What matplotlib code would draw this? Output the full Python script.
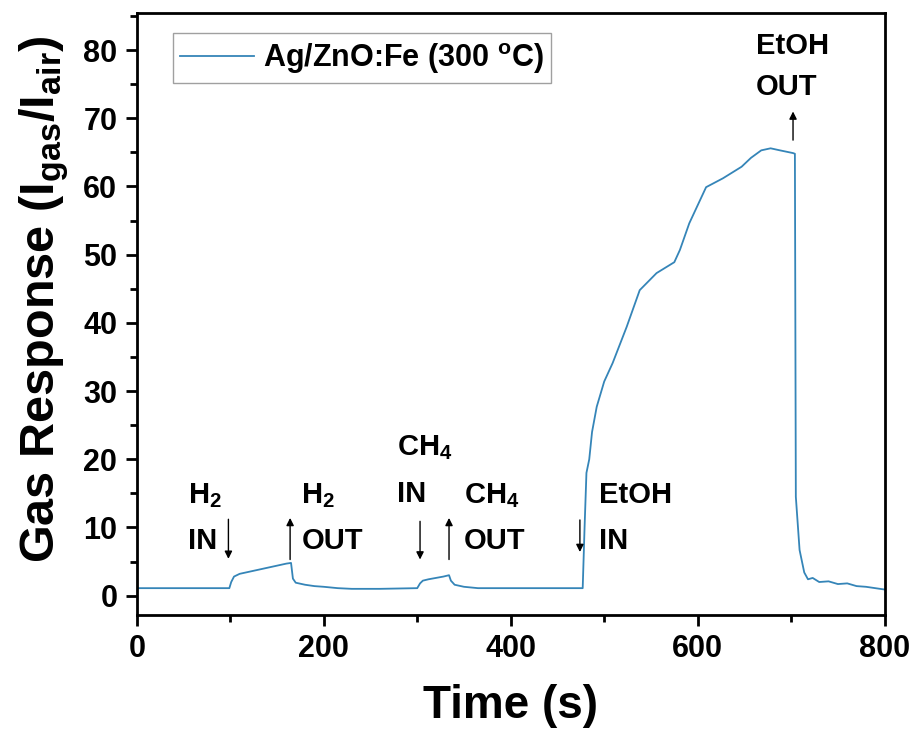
import matplotlib
matplotlib.use("Agg")
import matplotlib.pyplot as plt

# Ag/ZnO:Fe sensor response at 300 C
time_s = [0, 50, 99, 101, 104, 110, 120, 130, 140, 150, 160, 165, 167, 170,
          180, 190, 200, 215, 230, 260, 300, 303, 306, 312, 320, 328, 334, 336,
          340, 350, 365, 400, 440, 477, 479, 481, 484, 487, 492, 500, 509, 524,
          538, 556, 575, 581, 591, 609, 627, 647, 657, 668, 678, 688, 702, 704, 705,
          709, 714, 718, 723, 730, 740, 750, 760, 770, 780, 790, 800]
response = [1.1, 1.1, 1.1, 2.0, 2.8, 3.2, 3.5, 3.8, 4.1, 4.4, 4.7, 4.8, 2.5, 1.9,
            1.6, 1.4, 1.3, 1.1, 1.0, 1.0, 1.1, 1.8, 2.2, 2.4, 2.6, 2.8, 3.0, 2.2,
            1.6, 1.3, 1.1, 1.1, 1.1, 1.1, 10.0, 18.0, 20.0, 24.0, 27.7, 31.4, 34.1, 39.4,
            44.8, 47.3, 48.9, 50.7, 54.6, 59.9, 61.2, 62.9, 64.2, 65.3, 65.6, 65.3, 64.9, 64.8,
            14.5, 6.7, 3.4, 2.4, 2.6, 2.0, 2.1, 1.7, 1.8, 1.4, 1.3, 1.1, 0.9]

# gas switching events: (x, arrow tail y, arrow head y)
events = [(98, 11.2, 5.4), (164, 5.3, 11.4), (303, 10.9, 5.3),
          (334, 5.3, 11.4), (474, 11.1, 6.4), (702, 66.8, 71.0)]
# event labels: (x, baseline y, text)
labels = [(55, 13.6, "H$_2$"), (55, 6.9, "IN"),
          (176, 13.6, "H$_2$"), (176, 6.9, "OUT"),
          (278, 20.6, "CH$_4$"), (278, 13.7, "IN"),
          (350, 13.6, "CH$_4$"), (350, 6.9, "OUT"),
          (494, 13.6, "EtOH"), (494, 6.9, "IN"),
          (662, 79.4, "EtOH"), (662, 73.4, "OUT")]

plt.rcParams["mathtext.fontset"] = "custom"
plt.rcParams["mathtext.rm"] = "Liberation Sans:bold"
plt.rcParams["mathtext.it"] = "Liberation Sans:bold"
plt.rcParams["mathtext.bf"] = "Liberation Sans:bold"
plt.rcParams["mathtext.default"] = "rm"
plt.rcParams["font.family"] = "Liberation Sans"

fig = plt.figure(figsize=(9.12, 7.38), dpi=100)
ax = fig.add_axes([0.150, 0.167, 0.820, 0.815])

ax.plot(time_s, response, color="#3585b8", lw=1.3, label="Ag/ZnO:Fe (300 $^{o}$C)")

for x, y0, y1 in events:
    ax.annotate("", xy=(x, y1), xytext=(x, y0),
                arrowprops=dict(arrowstyle="-|>", color="black", lw=1.0,
                                mutation_scale=11, shrinkA=0, shrinkB=0))
for x, y, s in labels:
    ax.text(x, y, s, fontsize=21, fontweight="bold", ha="left", va="baseline")

ax.set_xlim(0, 800)
ax.set_ylim(-2.8, 85.4)
ax.set_xticks([0, 200, 400, 600, 800])
ax.set_xticks([100, 300, 500, 700], minor=True)
ax.set_yticks(range(0, 81, 10))
ax.set_yticks(range(5, 86, 10), minor=True)

for sp in ax.spines.values():
    sp.set_linewidth(2)
ax.tick_params(which="major", direction="out", length=8, width=2, labelsize=22, pad=6)
ax.tick_params(which="minor", direction="out", length=5, width=2)
for lab in ax.get_xticklabels() + ax.get_yticklabels():
    lab.set_fontweight("bold")

ax.set_xlabel("Time (s)", fontsize=33, fontweight="bold", labelpad=14)
ax.set_ylabel("Gas Response (I$_{gas}$/I$_{air}$)", fontsize=35, fontweight="bold")
ax.yaxis.set_label_coords(-0.088, 0.525)

leg = ax.legend(loc="upper left", bbox_to_anchor=(0.048, 0.967), borderaxespad=0,
                fancybox=False, prop={"weight": "bold", "size": 22},
                handlelength=2.4, borderpad=0.25, handletextpad=0.3)
leg.get_frame().set_edgecolor("#888888")
leg.get_frame().set_linewidth(1.0)

fig.savefig("out.png", dpi=100)
